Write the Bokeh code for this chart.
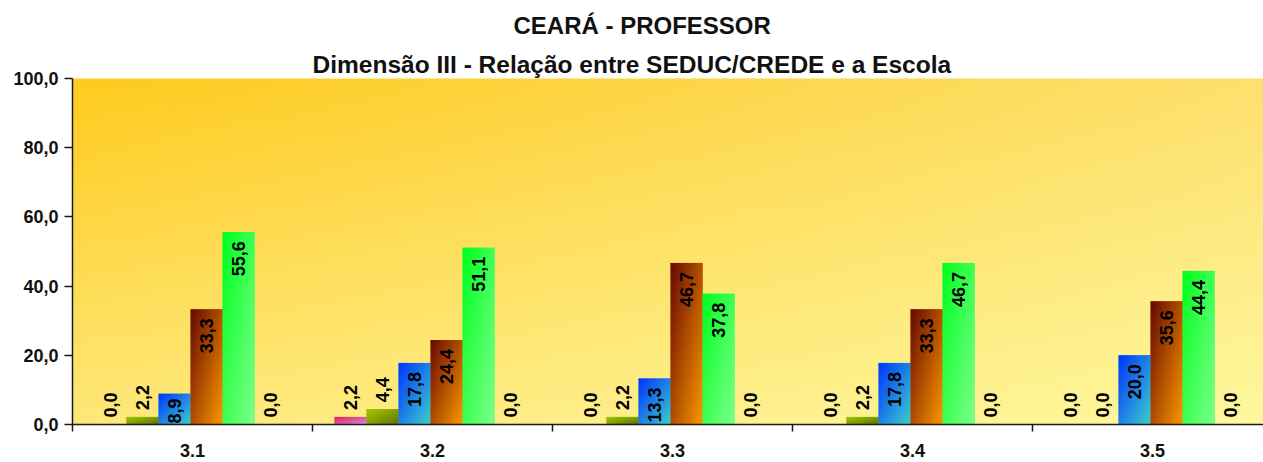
import numpy as np
from bokeh.plotting import figure
from bokeh.models import ColumnDataSource, Range1d, FixedTicker, Title
from bokeh.core.properties import value
from bokeh.embed import file_html
from bokeh.resources import INLINE

# ---------------- data ----------------
categories = ["3.1", "3.2", "3.3", "3.4", "3.5"]
serie_1 = [0.0, 2.2, 0.0, 0.0, 0.0]
serie_2 = [2.2, 4.4, 2.2, 2.2, 0.0]
serie_3 = [8.9, 17.8, 13.3, 17.8, 20.0]
serie_4 = [33.3, 24.4, 46.7, 33.3, 35.6]
serie_5 = [55.6, 51.1, 37.8, 46.7, 44.4]
serie_6 = [0.0, 0.0, 0.0, 0.0, 0.0]
y_ticks = [0, 20, 40, 60, 80, 100]
y_tick_labels = ["0,0", "20,0", "40,0", "60,0", "80,0", "100,0"]
title_text = "CEARÁ - PROFESSOR"
subtitle_text = "Dimensão III - Relação entre SEDUC/CREDE e a Escola"

series = [serie_1, serie_2, serie_3, serie_4, serie_5, serie_6]

# ---------------- styles ----------------
grad_colors = [
    ((232, 25, 75), (215, 140, 225)),    # pink
    ((160, 205, 0), (100, 112, 5)),      # olive
    ((0, 55, 255), (60, 205, 205)),      # blue
    ((105, 10, 0), (250, 150, 0)),       # brown/orange
    ((0, 255, 30), (125, 255, 140)),     # green
    ((150, 60, 130), (220, 150, 210)),   # sixth
]
FONT = value("Liberation Sans")
n_series = len(series)
bar_w = 32 / 240
shift = -0.008

W, H = 1263, 462
LEFT, TOP, BOTTOM = 72, 78, 38
PX_PER_UNIT = (H - TOP - BOTTOM) / 100.0


def to_rgba(rgb):
    h, w, _ = rgb.shape
    img = np.empty((h, w), dtype=np.uint32)
    view = img.view(dtype=np.uint8).reshape((h, w, 4))
    view[..., 0:3] = np.clip(rgb, 0, 255).astype(np.uint8)
    view[..., 3] = 255
    return img


def grad_img(c0, c1, w=24, h=120):
    u = np.linspace(0, 1, w)[None, :]
    v = np.linspace(0, 1, h)[:, None]  # row 0 is bottom
    t = (u + (1 - v)) / 2.0
    c0 = np.array(c0, float)
    c1 = np.array(c1, float)
    rgb = c0 + (c1 - c0) * t[..., None]
    return to_rgba(rgb)


def bg_img(w=300, h=100):
    tl = np.array((254, 203, 30), float)
    tr = np.array((253, 224, 110), float)
    bl = np.array((255, 232, 122), float)
    br = np.array((255, 248, 158), float)
    u = np.linspace(0, 1, w)[None, :, None]
    v = np.linspace(0, 1, h)[:, None, None]  # 0 bottom, 1 top
    top = tl + (tr - tl) * u
    bot = bl + (br - bl) * u
    rgb = bot + (top - bot) * v
    return to_rgba(rgb)


x_end = (W - LEFT) / 240.0

p = figure(width=W, height=H, output_backend="svg", toolbar_location=None,
           x_range=Range1d(0, x_end), y_range=Range1d(0, 100),
           min_border_left=LEFT, min_border_right=0, min_border_top=TOP, min_border_bottom=BOTTOM)
p.outline_line_color = None
p.xgrid.visible = False
p.ygrid.visible = False
p.background_fill_color = "#fde680"
p.border_fill_color = "white"

# background gradient of the plot area
p.image_rgba(image=[bg_img()], x=0, y=0, dw=x_end, dh=100, level="image")

# bars
xs, tops, imgs, cols, lefts = [], [], [], [], []
for i, vals in enumerate(series):
    c0, c1 = grad_colors[i]
    mid = tuple(int((a + b) / 2) for a, b in zip(c0, c1))
    for g, v in enumerate(vals):
        xc = g + 0.5 + (i - (n_series - 1) / 2) * bar_w + shift
        xs.append(xc)
        tops.append(v)
        cols.append("#%02x%02x%02x" % mid)
        imgs.append(grad_img(c0, c1))
        lefts.append(xc - bar_w / 2)

src = ColumnDataSource(dict(x=xs, top=tops, color=cols))
p.vbar(x="x", top="top", width=bar_w, bottom=0, fill_color="color", line_color=None, source=src)

img_src = ColumnDataSource(dict(
    image=[im for im, t in zip(imgs, tops) if t > 0],
    x=[l for l, t in zip(lefts, tops) if t > 0],
    y=[0 for t in tops if t > 0],
    dw=[bar_w for t in tops if t > 0],
    dh=[t for t in tops if t > 0],
))
p.image_rgba(image="image", x="x", y="y", dw="dw", dh="dh", source=img_src)

# data labels
labels = [("%.1f" % t).replace(".", ",") for t in tops]
inside = [t >= 8 for t in tops]
# keep the text inside short bars: the label length is about 10 px per glyph
in_off = [max(1, min(9, t * PX_PER_UNIT - 10 * len(s) + 4)) for t, s in zip(tops, labels)]
in_src = ColumnDataSource(dict(x=[x for x, k in zip(xs, inside) if k],
                               y=[t for t, k in zip(tops, inside) if k],
                               off=[o for o, k in zip(in_off, inside) if k],
                               text=[s for s, k in zip(labels, inside) if k]))
out_src = ColumnDataSource(dict(x=[x for x, k in zip(xs, inside) if not k],
                                y=[t for t, k in zip(tops, inside) if not k],
                                text=[s for s, k in zip(labels, inside) if not k]))
common = dict(angle=np.pi / 2, text_baseline="middle", text_font=FONT,
              text_font_style="bold", text_font_size="18px", text_color="black")
p.text(x="x", y="y", text="text", source=in_src, text_align="right", y_offset="off", **common)
p.text(x="x", y="y", text="text", source=out_src, text_align="left", y_offset=-7, **common)

# axes
p.yaxis.ticker = FixedTicker(ticks=y_ticks)
p.yaxis.major_label_overrides = {t: s for t, s in zip(y_ticks, y_tick_labels)}
p.yaxis.major_tick_out = 8
p.yaxis.major_tick_in = 0
p.yaxis.major_label_standoff = 6

centers = [g + 0.5 for g in range(len(categories))]
bounds = [g for g in range(len(categories) + 1)]
p.xaxis.ticker = FixedTicker(ticks=centers, minor_ticks=bounds)
p.xaxis.major_label_overrides = {c: s for c, s in zip(centers, categories)}
p.xaxis.major_tick_out = 0
p.xaxis.major_tick_in = 0
p.xaxis.minor_tick_out = 7
p.xaxis.minor_tick_in = 0
p.xaxis.major_label_standoff = 12

for ax in (p.xaxis, p.yaxis):
    ax.axis_line_color = "#1a1a1a"
    ax.axis_line_width = 1.5
    ax.major_tick_line_color = "#1a1a1a"
    ax.major_tick_line_width = 1.5
    ax.minor_tick_line_color = "#1a1a1a"
    ax.minor_tick_line_width = 1.5
    ax.major_label_text_font = "Liberation Sans"
    ax.major_label_text_font_style = "bold"
    ax.major_label_text_font_size = "18px"
    ax.major_label_text_color = "#111111"
p.yaxis.minor_tick_line_color = None

# titles (subtitle added first: closest to the plot area)
p.add_layout(Title(text=subtitle_text, align="left", offset=240, standoff=2,
                   text_font="Liberation Sans", text_font_style="bold",
                   text_font_size="24.5px", text_color="#111111"), "above")
p.add_layout(Title(text=title_text, align="left", offset=441, standoff=17,
                   text_font="Liberation Sans", text_font_style="bold",
                   text_font_size="24px", text_color="#111111"), "above")

open("out.html", "w").write(file_html(p, INLINE))
